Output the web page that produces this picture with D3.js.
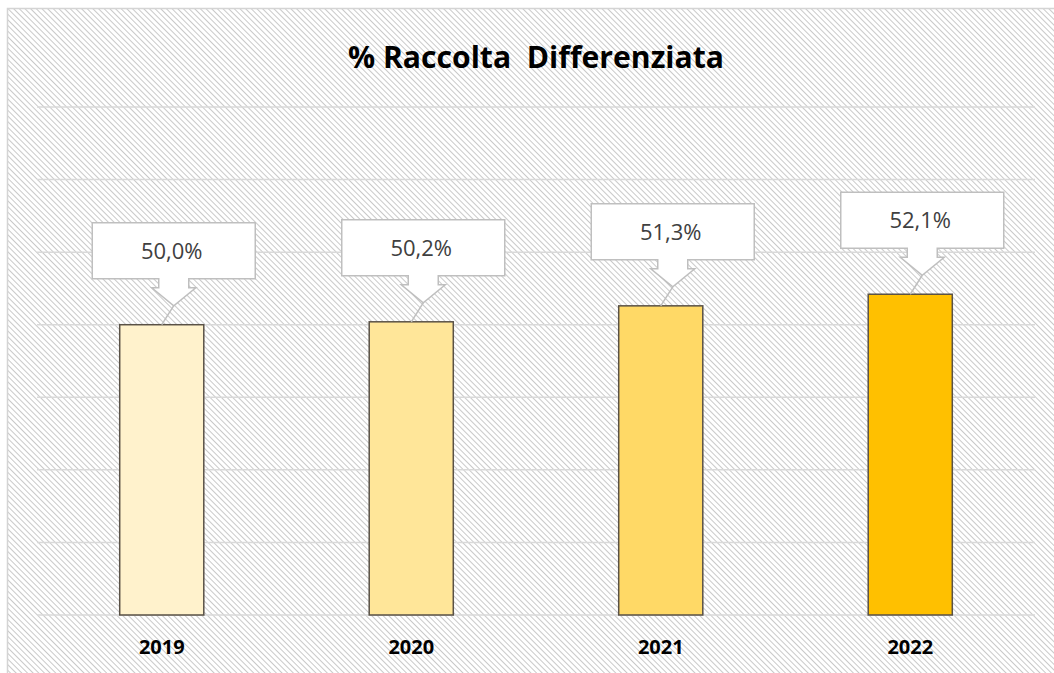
<!DOCTYPE html>
<html><head><meta charset="utf-8">
<script src="https://cdn.jsdelivr.net/npm/d3@7"></script>
<style>html,body{margin:0;padding:0;background:#fff;}svg{display:block;}</style>
</head><body><svg id="c" width="1054" height="673"></svg>
<script>
const years = ["2019","2020","2021","2022"];
const values = [50.0, 50.2, 51.3, 52.1];
const labels = ["50,0%","50,2%","51,3%","52,1%"];
const colors = ["#fff2cc","#ffe699","#ffd966","#ffc000"];
const yTicks = [30,35,40,45,50,55,60,65];
const title = "% Raccolta\u00a0\u00a0Differenziata";

const svg = d3.select("#c");
const defs = svg.append("defs");
const pat = defs.append("pattern").attr("id","hatch").attr("patternUnits","userSpaceOnUse")
  .attr("width",4).attr("height",4).attr("patternTransform","rotate(45)");
pat.append("rect").attr("width",4).attr("height",4).attr("fill","#ffffff");
pat.append("line").attr("x1",0).attr("y1",0).attr("x2",4).attr("y2",0)
  .attr("stroke","#c9c9c9").attr("stroke-width",2);

svg.append("rect").attr("x",7.5).attr("y",8.5).attr("width",1060).attr("height",680)
  .attr("fill","url(#hatch)").attr("stroke","#d4d4d4").attr("stroke-width",1.5);

const x = d3.scaleBand().domain(years).range([37,1035]).paddingInner(0.663).paddingOuter(0.3315);
const y = d3.scaleLinear().domain([30,65]).range([615,107]);

svg.append("g").selectAll("line").data(yTicks).join("line")
  .attr("x1",37).attr("x2",1035).attr("y1",d=>y(d)).attr("y2",d=>y(d))
  .attr("stroke","#d9d9d9").attr("stroke-width",1.5);

svg.append("text").attr("x",536).attr("y",68).attr("text-anchor","middle")
  .attr("font-family","Open Sans, sans-serif").attr("font-weight","bold").attr("font-size",30)
  .attr("textLength",376).attr("lengthAdjust","spacingAndGlyphs")
  .attr("fill","#000").text(title);

svg.append("g").selectAll("rect").data(values).join("rect")
  .attr("x",(d,i)=>x(years[i])).attr("width",x.bandwidth())
  .attr("y",d=>y(d)).attr("height",d=>y(30)-y(d))
  .attr("fill",(d,i)=>colors[i]).attr("stroke","#595146").attr("stroke-width",1.5);

svg.append("g").selectAll("text").data(years).join("text")
  .attr("x",d=>x(d)+x.bandwidth()/2).attr("y",654).attr("text-anchor","middle")
  .attr("font-family","Open Sans, sans-serif").attr("font-weight","bold").attr("font-size",20)
  .attr("fill","#000").text(d=>d);

// callouts
const bw = 163, bh = 56, gap = 46, off = 12;
const g = svg.append("g");
values.forEach((v,i)=>{
  const cx = x(years[i]) + x.bandwidth()/2;
  const top = y(v);
  const bx = cx + off, bb = top - gap, bt = bb - bh;
  const l = bx - bw/2, r = bx + bw/2;
  const nw = 30, hw = 44, nd = 9, hd = 27;
  const apx = bx, apy = bb + hd;
  const path = `M${l},${bt} H${r} V${bb} H${bx+nw/2} V${bb+nd} H${bx+hw/2} L${apx},${apy} L${bx-hw/2},${bb+nd} H${bx-nw/2} V${bb} H${l} Z`;
  g.append("line").attr("x1",apx).attr("y1",apy).attr("x2",cx).attr("y2",top)
    .attr("stroke","#bfbfbf").attr("stroke-width",1.5);
  g.append("path").attr("d",path).attr("fill","#fff").attr("stroke","#bfbfbf").attr("stroke-width",1.5);
  g.append("text").attr("x",bx-2).attr("y",bt+bh/2+8).attr("text-anchor","middle")
    .attr("font-family","Open Sans, sans-serif").attr("font-size",22).attr("fill","#404040")
    .text(labels[i]);
});
</script></body></html>
